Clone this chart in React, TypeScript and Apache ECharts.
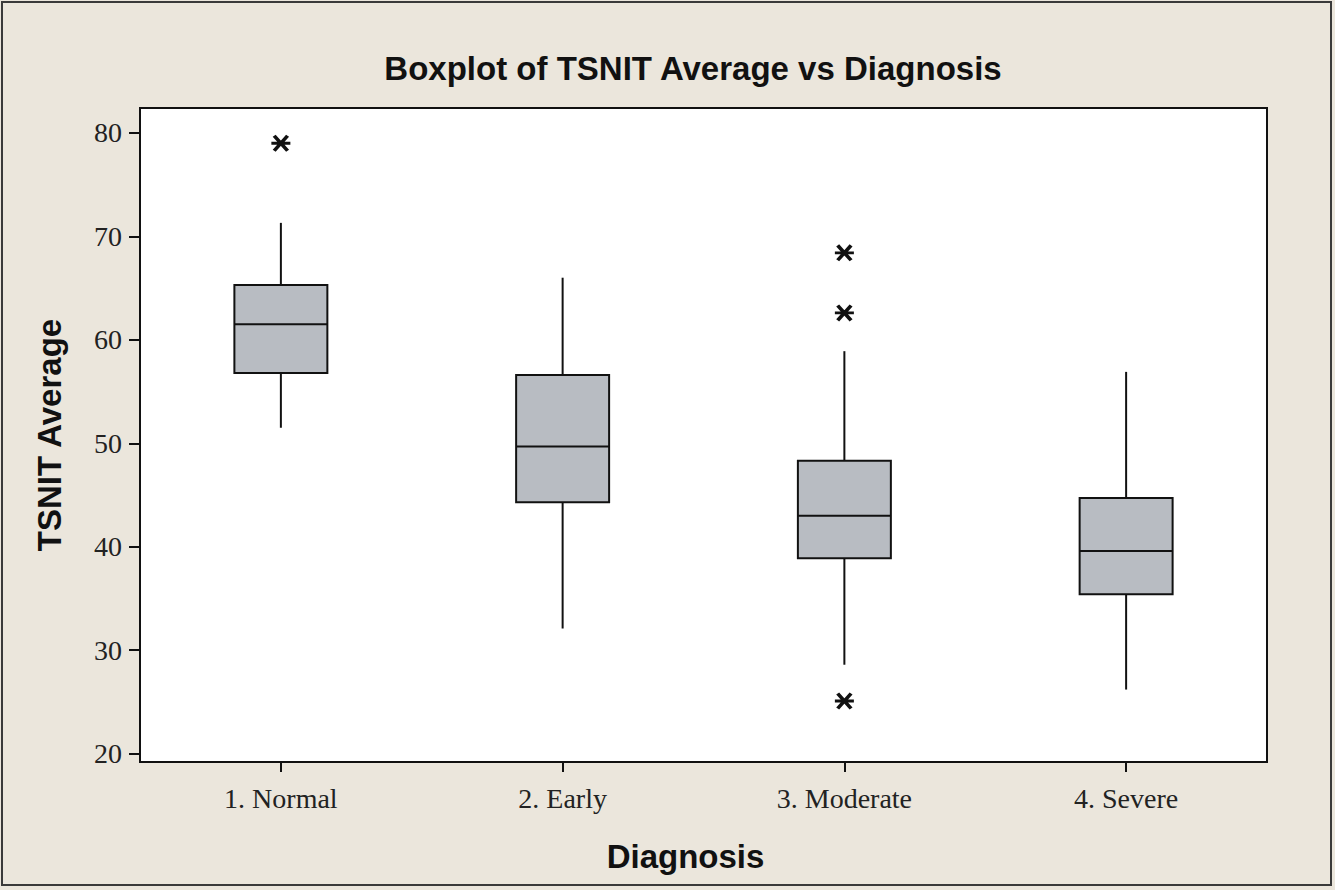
import React, { useEffect, useRef } from "react";
import * as echarts from "echarts";

const categories = ["1. Normal", "2. Early", "3. Moderate", "4. Severe"];
// [lowerWhisker, Q1, median, Q3, upperWhisker]
const boxStats = [
  [51.5, 56.8, 61.5, 65.3, 71.3],
  [32.1, 44.3, 49.7, 56.6, 66.0],
  [28.6, 38.9, 43.0, 48.3, 58.9],
  [26.2, 35.4, 39.6, 44.7, 56.9],
];
// outliers: [categoryIndex, value]
const outliers = [
  [0, 79.0],
  [2, 68.4],
  [2, 62.6],
  [2, 25.1],
];
const yTicks = [20, 30, 40, 50, 60, 70, 80];

const asterisk =
  "path://M0 8.3 L20 8.3 L20 11.7 L0 11.7 Z M4.5 0 L18.6 17.6 L15.5 20 L1.4 2.4 Z M15.5 0 L18.6 2.4 L4.5 20 L1.4 17.6 Z";

export default function App() {
  const ref = useRef<HTMLDivElement>(null);
  useEffect(() => {
    document.body.style.margin = "0";
    const chart = echarts.init(ref.current!, null, { renderer: "svg" });
    const serif = "Liberation Serif";
    const sans = "Liberation Sans";
    chart.setOption({
      animation: false,
      backgroundColor: "#ebe6dc",
      graphic: [
        {
          type: "rect",
          shape: { x: 2, y: 2, width: 1329, height: 883 },
          style: { fill: "none", stroke: "#3a3a3a", lineWidth: 2 },
          silent: true,
          z: 100,
        },
        {
          type: "text",
          x: 693,
          y: 68,
          style: {
            text: "Boxplot of TSNIT Average vs Diagnosis",
            fontFamily: sans,
            fontWeight: "bold",
            fontSize: 33,
            fill: "#111",
            textAlign: "center",
            textVerticalAlign: "middle",
          },
        },
      ],
      grid: {
        left: 140,
        right: 68,
        top: 108,
        bottom: 128,
        show: true,
        backgroundColor: "#ffffff",
        borderColor: "#111",
        borderWidth: 2,
      },
      xAxis: {
        type: "category",
        data: categories,
        boundaryGap: true,
        name: "Diagnosis",
        nameLocation: "middle",
        nameGap: 78,
        nameTextStyle: {
          fontFamily: sans,
          fontWeight: "bold",
          fontSize: 33,
          color: "#111",
          padding: [0, 36, 0, 0],
        },
        axisLine: { show: false },
        axisTick: { show: true, alignWithLabel: true, length: 10, lineStyle: { color: "#111", width: 2 } },
        axisLabel: { fontFamily: serif, fontSize: 28, color: "#222", margin: 22 },
        splitLine: { show: false },
      },
      yAxis: {
        type: "value",
        min: 19.2,
        max: 82.4,
        name: "TSNIT Average",
        nameLocation: "middle",
        nameGap: 74,
        nameRotate: 90,
        nameTextStyle: { fontFamily: sans, fontWeight: "bold", fontSize: 33, color: "#111" },
        axisLine: { show: false },
        axisTick: { show: true, length: 11, customValues: yTicks, lineStyle: { color: "#111", width: 2 } },
        axisLabel: { fontFamily: serif, fontSize: 28, color: "#222", margin: 18, customValues: yTicks },
        splitLine: { show: false },
      },
      series: [
        {
          type: "custom",
          data: boxStats.map((s, i) => [i, ...s]),
          encode: { x: 0, y: [1, 2, 3, 4, 5] },
          renderItem: (params: any, api: any) => {
            const i = api.value(0);
            const lo = api.coord([i, api.value(1)]);
            const q1 = api.coord([i, api.value(2)]);
            const med = api.coord([i, api.value(3)]);
            const q3 = api.coord([i, api.value(4)]);
            const hi = api.coord([i, api.value(5)]);
            const bw = api.size([1, 0])[0] * 0.33;
            const x = lo[0];
            const stroke = { stroke: "#111", lineWidth: 2 };
            return {
              type: "group",
              children: [
                { type: "line", shape: { x1: x, y1: hi[1], x2: x, y2: q3[1] }, style: stroke },
                { type: "line", shape: { x1: x, y1: q1[1], x2: x, y2: lo[1] }, style: stroke },
                {
                  type: "rect",
                  shape: { x: x - bw / 2, y: q3[1], width: bw, height: q1[1] - q3[1] },
                  style: { fill: "#b8bcc2", stroke: "#111", lineWidth: 2 },
                },
                { type: "line", shape: { x1: x - bw / 2, y1: med[1], x2: x + bw / 2, y2: med[1] }, style: stroke },
              ],
            };
          },
        },
        {
          type: "scatter",
          data: outliers,
          symbol: asterisk,
          symbolSize: [19, 17],
          itemStyle: { color: "#111", opacity: 1 },
        },
      ],
    });
    return () => chart.dispose();
  }, []);
  return <div ref={ref} style={{ width: 1335, height: 890 }} />;
}
